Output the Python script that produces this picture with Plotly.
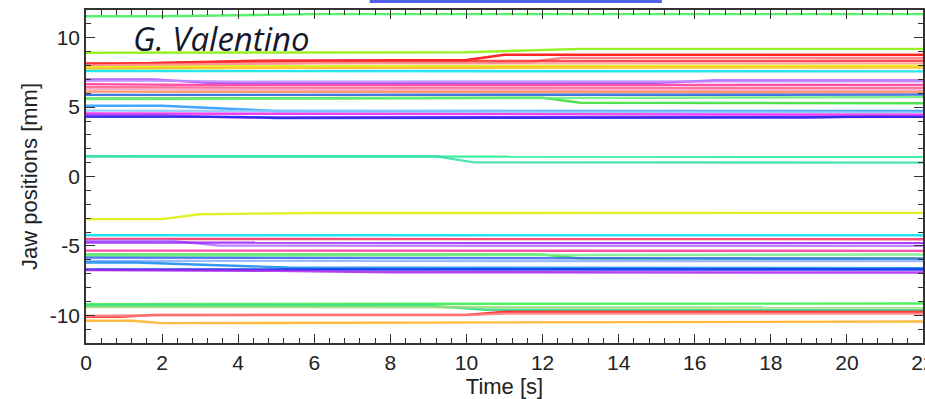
import plotly.graph_objects as go

# ---------------- data ----------------
x_tick_vals = [0, 2, 4, 6, 8, 10, 12, 14, 16, 18, 20, 22]
x_tick_text = ["0", "2", "4", "6", "8", "10", "12", "14", "16", "18", "20", "22"]
y_tick_vals = [-10, -5, 0, 5, 10]
y_tick_text = ["-10", "-5", "0", "5", "10"]

jaw_colors = [
    "#3bee55",
    "#88ee00", "#ff0000", "#ff7080", "#ff3030", "#ff9a9a", "#e6f000", "#ffc020", "#00e6e6",
    "#a040ff", "#c090ff", "#ff3399", "#ff5c8a", "#ff9ec0", "#ff8a5c", "#2060e0", "#33dd33", "#66ee77",
    "#2299ff", "#88c8ff", "#ee22ee", "#8833ff", "#2222ee",
    "#22ee99", "#33ddaa",
    "#ddee00",
    "#00e0f0", "#ff3060", "#b070ff", "#9922ff", "#ff3399", "#33dd44", "#77ee88", "#3366ee",
    "#88b0ff", "#1188ee", "#0022ee", "#aa22ee",
    "#33ee44", "#22dd88", "#99dd77", "#ff2020", "#ff7a7a", "#ffb020",
]

jaw_times = [
    [0, 2, 6, 22],
    [0, 10, 13, 22], [0, 1.3, 4.5, 10, 11, 22], [0, 2, 5, 11.5, 12.5, 22], [0, 5, 22], [0, 6, 22],
    [0, 5, 22], [0, 8, 22], [0, 22],
    [0, 1.8, 3.2, 15, 16.5, 22], [0, 2, 4, 22], [0, 3, 22], [0, 5, 22], [0, 22], [0, 22], [0, 22],
    [0, 12, 13, 22], [0, 22],
    [0, 2, 5, 22], [0, 14, 22], [0, 22], [0, 2, 4, 22], [0, 4, 5, 14, 15, 19, 20, 22],
    [0, 22], [0, 9.2, 10.2, 22],
    [0, 2, 3, 6, 22],
    [0, 22], [0, 22], [0, 2.2, 3.5, 22], [0, 22], [0, 22], [0, 12, 13, 22], [0, 22], [0, 22],
    [0, 22], [0, 1.3, 5.3, 22], [0, 12, 15, 22], [0, 5, 8, 22],
    [0, 22], [0, 9, 10.5, 22], [0, 22], [0, 0.9, 1.8, 10, 11, 22], [0, 2, 10, 11, 22], [0, 1.2, 2, 22],
]

jaw_values = [
    [11.55, 11.55, 11.7, 11.7],
    [8.92, 8.95, 9.2, 9.2], [8.15, 8.15, 8.35, 8.4, 8.77, 8.77], [8.05, 8.05, 8.2, 8.2, 8.55, 8.55],
    [8.1, 8.32, 8.34], [8.0, 8.15, 8.15],
    [7.86, 7.95, 7.97], [7.78, 7.83, 7.85], [7.6, 7.58],
    [7.0, 7.0, 6.75, 6.75, 6.92, 6.92], [6.9, 6.9, 6.84, 6.86], [6.66, 6.6, 6.6], [6.45, 6.38, 6.37],
    [6.3, 6.2], [6.12, 6.06], [5.88, 5.9],
    [5.62, 5.68, 5.32, 5.28], [5.58, 5.72],
    [5.1, 5.1, 4.72, 4.72], [4.75, 4.7, 4.62], [4.54, 4.45], [4.4, 4.4, 4.25, 4.3],
    [4.3, 4.3, 4.22, 4.22, 4.25, 4.25, 4.3, 4.3],
    [1.45, 1.42], [1.45, 1.45, 1.02, 1.0],
    [-3.07, -3.07, -2.72, -2.63, -2.62],
    [-4.23, -4.23], [-4.5, -4.52], [-4.62, -4.62, -4.98, -5.0], [-4.76, -4.78], [-5.34, -5.36],
    [-5.62, -5.62, -5.9, -5.9], [-5.72, -5.62], [-5.85, -5.92],
    [-6.08, -6.1], [-6.2, -6.2, -6.56, -6.6], [-6.7, -6.7, -6.72, -6.7], [-6.75, -6.8, -6.9, -6.92],
    [-9.2, -9.15], [-9.32, -9.32, -9.6, -9.63], [-9.4, -9.44], [-10.12, -10.12, -9.97, -9.97, -9.75, -9.75],
    [-10.05, -10.0, -9.98, -9.88, -9.88], [-10.4, -10.4, -10.57, -10.45],
]

# ---------------- figure ----------------
fig = go.Figure()
for col, ts, vs in zip(jaw_colors, jaw_times, jaw_values):
    fig.add_trace(go.Scatter(x=ts, y=vs, mode="lines",
                             line=dict(color=col, width=2.4),
                             opacity=0.85, showlegend=False, hoverinfo="skip"))

axis_common = dict(
    showgrid=False, zeroline=False, showline=True, linecolor="#333333", linewidth=1.5,
    mirror="ticks", ticks="inside", ticklen=9, tickwidth=1.3, tickcolor="#333333",
    ticklabeloverflow="allow",
    tickfont=dict(family="Liberation Sans, Arial, sans-serif", size=21, color="#222222"),
)

fig.update_layout(
    width=925, height=399,
    margin=dict(l=86, r=2, t=10, b=56, autoexpand=False),
    paper_bgcolor="white", plot_bgcolor="white",
    xaxis=dict(range=[0, 22], tickmode="array", tickvals=x_tick_vals, ticktext=x_tick_text,
               minor=dict(dtick=0.4, tick0=0, ticks="inside", ticklen=5, tickcolor="#333333", showgrid=False),
               title=dict(text="Time [s]", standoff=2,
                          font=dict(family="Liberation Sans, Arial, sans-serif", size=22, color="#222222")),
               automargin=False,
               **axis_common),
    yaxis=dict(range=[-12, 12], tickmode="array", tickvals=y_tick_vals, ticktext=y_tick_text,
               minor=dict(dtick=1, tick0=0, ticks="inside", ticklen=5, tickcolor="#333333", showgrid=False),
               title=dict(text="Jaw positions [mm]", standoff=6,
                          font=dict(family="Liberation Sans, Arial, sans-serif", size=22, color="#222222")),
               automargin=False,
               **axis_common),
    annotations=[dict(text="<i>G. Valentino</i>", x=0.054, y=0.915, xref="paper", yref="paper",
                      xanchor="left", yanchor="middle", showarrow=False,
                      font=dict(family="Open Sans, sans-serif", size=33, color="#151a2a"))],
    shapes=[dict(type="rect", xref="paper", yref="paper", x0=0.339, x1=0.688,
                 y0=1.021, y1=1.032, fillcolor="#5060e8", line=dict(width=0))],
)

fig.write_html("out.html")
